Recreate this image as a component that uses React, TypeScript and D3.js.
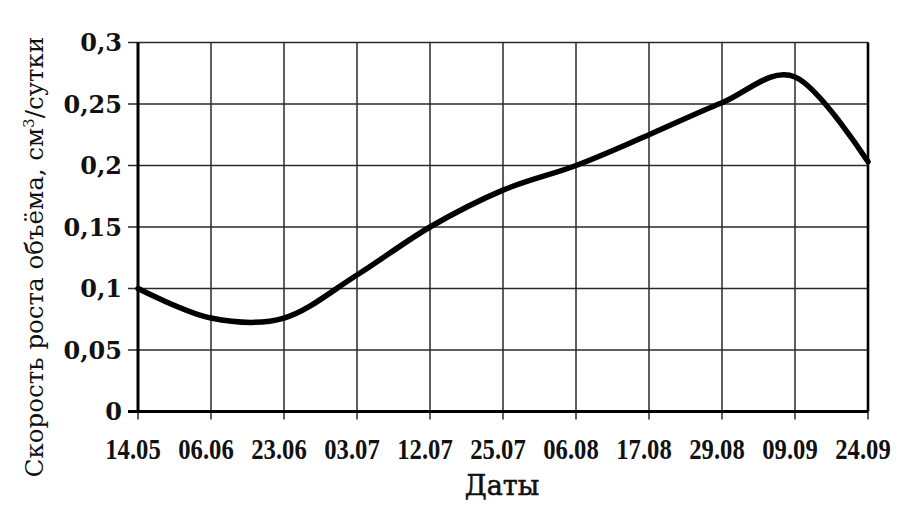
import React from "react";
import * as d3 from "d3";

const categories = ["14.05", "06.06", "23.06", "03.07", "12.07", "25.07", "06.08", "17.08", "29.08", "09.09", "24.09"];
const values = [0.1, 0.076, 0.076, 0.111, 0.15, 0.18, 0.2, 0.225, 0.251, 0.272, 0.203];
const yTicks = [0, 0.05, 0.1, 0.15, 0.2, 0.25, 0.3];
const yTickLabels = ["0", "0,05", "0,1", "0,15", "0,2", "0,25", "0,3"];

const W = 908;
const H = 520;
const left = 138;
const right = 868;
const top = 42.5;
const bottom = 411.5;

export default function App() {
  const x = d3.scalePoint<string>().domain(categories).range([left, right]);
  const y = d3.scaleLinear().domain([0, 0.3]).range([bottom, top]);
  const line = d3
    .line<number>()
    .x((_, i) => x(categories[i]) as number)
    .y((d) => y(d))
    .curve(d3.curveCardinal.tension(0));
  const path = line(values) || "";
  const grid = "#2a2a2a";
  return (
    <svg width={W} height={H} style={{ position: "absolute", left: 0, top: 0, background: "#fff" }}>
      <rect x={0} y={0} width={W} height={H} fill="#fff" />
      {yTicks.map((t) => (
        <line key={"h" + t} x1={left - 10} x2={right} y1={y(t)} y2={y(t)} stroke={grid} strokeWidth={1.5} />
      ))}
      {categories.map((c) => (
        <line key={"v" + c} x1={x(c)} x2={x(c)} y1={top} y2={bottom + 8} stroke={grid} strokeWidth={1.5} />
      ))}
      <line x1={left} x2={left} y1={top} y2={bottom} stroke="#000" strokeWidth={3} />
      <line x1={left - 10} x2={right} y1={bottom} y2={bottom} stroke="#000" strokeWidth={3} />
      <line x1={right} x2={right} y1={top} y2={bottom} stroke="#000" strokeWidth={2.6} />
      <path d={path} fill="none" stroke="#000" strokeWidth={5.5} strokeLinejoin="round" strokeLinecap="round" />
      {yTicks.map((t, i) => (
        <text
          key={"yl" + t}
          x={122}
          y={y(t)}
          dy="0.36em"
          textAnchor="end"
          fontFamily="DejaVu Serif"
          fontWeight="bold"
          fontSize={24}
          fill="#111"
        >
          {yTickLabels[i]}
        </text>
      ))}
      {categories.map((c) => (
        <text
          key={"xl" + c}
          transform={`translate(${(x(c) as number) - 5},459) scale(0.85,1)`}
          textAnchor="middle"
          fontFamily="Liberation Serif"
          fontWeight="bold"
          fontSize={29}
          fill="#111"
        >
          {c}
        </text>
      ))}
      <text
        x={502}
        y={495}
        textAnchor="middle"
        fontFamily="DejaVu Serif"
        fontSize={27}
        fill="#111"
        stroke="#111"
        strokeWidth={0.6}
      >
        Даты
      </text>
      <text
        transform="translate(43,257) rotate(-90)"
        textAnchor="middle"
        fontFamily="DejaVu Serif"
        fontSize={24.5}
        fill="#111"
      >
        Скорость роста объёма, см<tspan dy={-9} fontSize={15}>3</tspan>
        <tspan dy={9}>/сутки</tspan>
      </text>
    </svg>
  );
}
